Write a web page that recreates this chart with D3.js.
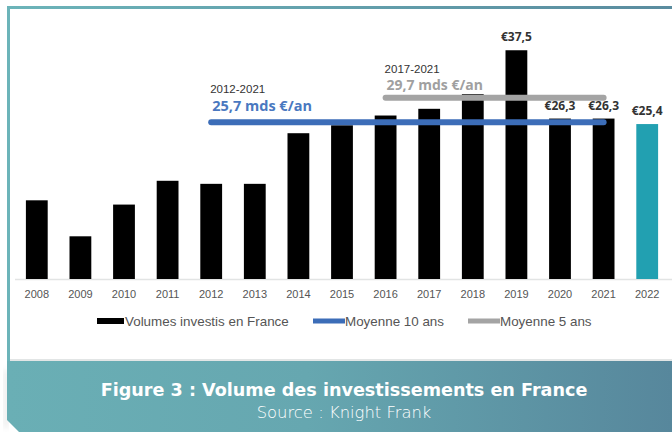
<!DOCTYPE html>
<html><head><meta charset="utf-8">
<script src="https://cdn.jsdelivr.net/npm/d3@7"></script>
<style>html,body{margin:0;padding:0;background:#fff;}svg{display:block;}</style>
</head><body>
<svg id="c" width="672" height="432"></svg>
<script>
const years = ["2008","2009","2010","2011","2012","2013","2014","2015","2016","2017","2018","2019","2020","2021","2022"];
const volumes = [12.9, 7.0, 12.2, 16.1, 15.6, 15.6, 23.9, 25.2, 26.8, 27.9, 30.3, 37.5, 26.3, 26.3, 25.4];
const valueLabels = {"2019":"€37,5","2020":"€26,3","2021":"€26,3","2022":"€25,4"};
const avg10 = {from:"2012", to:"2021", value:25.7, period:"2012-2021", label:"25,7 mds €/an"};
const avg5 = {from:"2016", to:"2021", value:29.7, period:"2017-2021", label:"29,7 mds €/an"};
const legendItems = ["Volumes investis en France","Moyenne 10 ans","Moyenne 5 ans"];
const title = "Figure 3 : Volume des investissements en France";
const source = "Source : Knight Frank";

const svg = d3.select("#c");
const defs = svg.append("defs");
const g1 = defs.append("linearGradient").attr("id","ban").attr("x1","0").attr("x2","1").attr("y1","0").attr("y2","0");
g1.append("stop").attr("offset","0").attr("stop-color","#6aafb5");
g1.append("stop").attr("offset","0.45").attr("stop-color","#66a7b0");
g1.append("stop").attr("offset","1").attr("stop-color","#57879c");
const g2 = defs.append("linearGradient").attr("id","top").attr("x1","0").attr("x2","1");
g2.append("stop").attr("offset","0").attr("stop-color","#6cb4b9");
g2.append("stop").attr("offset","1").attr("stop-color","#5a8c9f");
const f = defs.append("filter").attr("id","sh").attr("x","-10%").attr("y","-10%").attr("width","120%").attr("height","130%");
f.append("feGaussianBlur").attr("stdDeviation",3);

// card frame
svg.append("rect").attr("x",7).attr("y",6).attr("width",665).attr("height",3).attr("fill","url(#top)");
svg.append("rect").attr("x",7).attr("y",6).attr("width",3).attr("height",356).attr("fill","#6cb4b9");
svg.append("line").attr("x1",10).attr("x2",672).attr("y1",360).attr("y2",360).attr("stroke","#d8dcdc").attr("stroke-width",1.5);

// banner
const bannerPts = [[7,361],[672,361],[672,432],[19,432],[7,420]];
svg.append("polygon").attr("points","4,370 8,370 8,428 4,428").attr("fill","#c8c8c8").attr("filter","url(#sh)").attr("opacity",0.45);
svg.append("polygon").attr("points",bannerPts.map(p=>p.join(",")).join(" ")).attr("fill","url(#ban)");
svg.append("text").attr("x",344).attr("y",396).attr("text-anchor","middle")
  .attr("font-family","DejaVu Sans").attr("font-weight","bold").attr("font-size",17.6).attr("fill","#fff").text(title);
svg.append("text").attr("x",344).attr("y",418).attr("text-anchor","middle")
  .attr("font-family","DejaVu Sans").attr("font-weight",200).attr("font-size",16.4).attr("fill","#fff").text(source);

// scales
const x = d3.scaleBand().domain(years).range([15,669]).paddingInner(0.5).paddingOuter(0.25);
const y = d3.scaleLinear().domain([0,40]).range([279, 279-40*6.1]);
const bw = x.bandwidth();
const cx = d => x(d)+bw/2;

// axis line
svg.append("line").attr("x1",15).attr("x2",672).attr("y1",y(0)+0.5).attr("y2",y(0)+0.5).attr("stroke","#e2e4e4").attr("stroke-width",1.5);

// bars
svg.append("g").selectAll("rect").data(years).join("rect")
  .attr("x",d=>x(d)).attr("width",bw)
  .attr("y",(d,i)=>y(volumes[i])).attr("height",(d,i)=>y(0)-y(volumes[i]))
  .attr("fill",d=>d==="2022"?"#22a0b1":"#000");

// x labels
const xa = svg.append("g").attr("transform",`translate(0,${y(0)})`)
  .call(d3.axisBottom(x).tickSize(0).tickPadding(11));
xa.select(".domain").remove();
xa.selectAll("text").attr("font-family","Liberation Sans").attr("font-size",11).attr("fill","#555");

// average lines
function avgLine(a, color){
  svg.append("line").attr("x1",cx(a.from)).attr("x2",cx(a.to)).attr("y1",y(a.value)).attr("y2",y(a.value))
    .attr("stroke",color).attr("stroke-width",6).attr("stroke-linecap","round");
}
avgLine(avg5,"#a4a4a4");
avgLine(avg10,"#3c6db8");

// annotations
svg.append("text").attr("x",cx(avg10.from)-1).attr("y",93).attr("font-family","Liberation Sans").attr("font-size",11.5).attr("fill","#333").text(avg10.period);
svg.append("text").attr("x",cx(avg10.from)+1).attr("y",111).attr("font-family","Open Sans").attr("font-weight","bold").attr("font-size",14.5).attr("fill","#4a78c0").text(avg10.label);
svg.append("text").attr("x",cx(avg5.from)-1).attr("y",73).attr("font-family","Liberation Sans").attr("font-size",11.5).attr("fill","#333").text(avg5.period);
svg.append("text").attr("x",cx(avg5.from)+1).attr("y",90).attr("font-family","Open Sans").attr("font-weight","bold").attr("font-size",14).attr("fill","#a0a0a0").text(avg5.label);

// value labels
svg.append("g").selectAll("text").data(Object.keys(valueLabels)).join("text")
  .attr("x",d=>cx(d)).attr("y",d=>y(volumes[years.indexOf(d)])-9).attr("text-anchor","middle")
  .attr("font-family","Open Sans").attr("font-weight","bold").attr("font-size",12).attr("fill","#333")
  .text(d=>valueLabels[d]);

// legend
const lg = [
  {x:97, w:27, h:6, color:"#000", tx:125},
  {x:313, w:32, h:5, color:"#3c6db8", tx:345},
  {x:468, w:32, h:5, color:"#a4a4a4", tx:500}
];
lg.forEach((l,i)=>{
  svg.append("rect").attr("x",l.x).attr("y",321-l.h/2).attr("width",l.w).attr("height",l.h).attr("fill",l.color);
  svg.append("text").attr("x",l.tx).attr("y",325.5).attr("font-family","Liberation Sans").attr("font-size",13.4).attr("fill","#555").text(legendItems[i]);
});
</script>
</body></html>
